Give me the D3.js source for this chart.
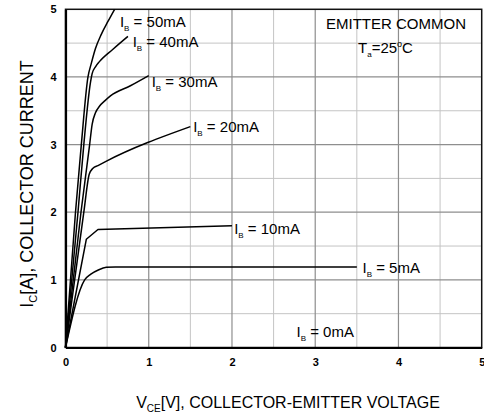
<!DOCTYPE html>
<html>
<head>
<meta charset="utf-8">
<script src="https://cdn.jsdelivr.net/npm/d3@7"></script>
<style>
  html, body { margin: 0; padding: 0; background: #fff; }
  svg { display: block; font-family: "Liberation Sans", Arial, sans-serif; }
</style>
</head>
<body>
<svg id="chart" width="484" height="418"></svg>
<script>
// ---- data ----
const seriesNames = ["50mA", "40mA", "30mA", "20mA", "10mA", "5mA"];
const vce50 = [0, 0.12, 0.19, 0.27, 0.31, 0.36, 0.43, 0.51, 0.59];
const ic50  = [0, 2.0, 3.0, 4.0, 4.2, 4.42, 4.63, 4.82, 5.0];
const vce40 = [0, 0.15, 0.22, 0.3, 0.32, 0.36, 0.41, 0.57, 0.75];
const ic40  = [0, 2.0, 3.0, 3.92, 4.05, 4.15, 4.23, 4.41, 4.6];
const vce30 = [0, 0.186, 0.29, 0.32, 0.36, 0.41, 0.475, 0.54, 0.78, 1.0];
const ic30  = [0, 2.0, 3.0, 3.3, 3.47, 3.57, 3.65, 3.72, 3.87, 4.02];
const vce20 = [0, 0.22, 0.285, 0.33, 0.39, 0.475, 1.5];
const ic20  = [0, 2.0, 2.56, 2.65, 2.69, 2.745, 3.265];
const vce10 = [0, 0.25, 0.39, 2.0];
const ic10  = [0, 1.6, 1.745, 1.8];
const vce5  = [0, 0.23, 0.3, 0.4, 0.49, 0.6, 3.5];
const ic5   = [0, 1.0, 1.08, 1.15, 1.185, 1.19, 1.19];
// label anchors (data units)
const labelNames = ["50mA", "40mA", "30mA", "20mA", "10mA", "5mA", "0mA"];
const labelV = [0.654, 0.807, 1.035, 1.534, 2.026, 3.568, 2.775];
const labelI = [4.742, 4.437, 3.857, 3.183, 1.684, 1.103, 0.159];
const xTicks = [0, 1, 2, 3, 4, 5];
const yTicks = [0, 1, 2, 3, 4, 5];
const minorTicks = [0.5, 1.5, 2.5, 3.5, 4.5];

// ---- layout ----
const svg = d3.select("#chart");
const m = { left: 65.5, right: 2.3, top: 9.3, bottom: 70.5 };
const W = 484, H = 418;
const x = d3.scaleLinear().domain([0, 5]).range([m.left, W - m.right]);
const y = d3.scaleLinear().domain([0, 5]).range([H - m.bottom, m.top]);

// minor grid
const g = svg.append("g");
g.selectAll(".mvx").data(minorTicks).join("line")
  .attr("x1", d => x(d)).attr("x2", d => x(d)).attr("y1", y(0)).attr("y2", y(5))
  .attr("stroke", "#c4c4c4").attr("stroke-width", 1);
g.selectAll(".mhy").data(minorTicks).join("line")
  .attr("x1", x(0)).attr("x2", x(5)).attr("y1", d => y(d)).attr("y2", d => y(d))
  .attr("stroke", "#c4c4c4").attr("stroke-width", 1);
// major grid
g.selectAll(".Mvx").data(xTicks.slice(1, -1)).join("line")
  .attr("x1", d => x(d)).attr("x2", d => x(d)).attr("y1", y(0)).attr("y2", y(5))
  .attr("stroke", "#8e8e8e").attr("stroke-width", 1.2);
g.selectAll(".Mhy").data(yTicks.slice(1, -1)).join("line")
  .attr("x1", x(0)).attr("x2", x(5)).attr("y1", d => y(d)).attr("y2", d => y(d))
  .attr("stroke", "#8e8e8e").attr("stroke-width", 1.2);

// frame
svg.append("rect").attr("x", x(0)).attr("y", y(5))
  .attr("width", x(5) - x(0)).attr("height", y(0) - y(5))
  .attr("fill", "none").attr("stroke", "#111").attr("stroke-width", 1.5);

// axes (ticks as labels only)
const xAxis = d3.axisBottom(x).tickValues(xTicks).tickSize(0).tickPadding(11).tickFormat(d3.format("d"));
const yAxis = d3.axisLeft(y).tickValues(yTicks).tickSize(0).tickPadding(9).tickFormat(d3.format("d"));
const gx = svg.append("g").attr("transform", `translate(0,${y(0)})`).call(xAxis);
const gy = svg.append("g").attr("transform", `translate(${x(0)},0)`).call(yAxis);
[gx, gy].forEach(a => {
  a.select(".domain").attr("stroke", "#000").attr("stroke-width", 2.2);
  a.selectAll("text").attr("font-family", "'Liberation Sans', Arial, sans-serif")
    .attr("font-size", 11).attr("font-weight", "bold").attr("fill", "#000");
});

// curves
const seriesV = [vce50, vce40, vce30, vce20, vce10, vce5];
const seriesI = [ic50, ic40, ic30, ic20, ic10, ic5];
const lineSmooth = d3.line().x(d => x(d[0])).y(d => y(d[1])).curve(d3.curveMonotoneX);
const lineStraight = d3.line().x(d => x(d[0])).y(d => y(d[1]));
seriesNames.forEach((name, k) => {
  const pts = seriesV[k].map((v, i) => [v, seriesI[k][i]]);
  svg.append("path").datum(pts)
    .attr("d", name === "10mA" ? lineStraight : lineSmooth)
    .attr("fill", "none").attr("stroke", "#000").attr("stroke-width", 1.5)
    .attr("stroke-linejoin", "round");
});

// labels
labelNames.forEach((name, k) => {
  const t = svg.append("text").attr("x", x(labelV[k])).attr("y", y(labelI[k]))
    .attr("font-size", 15).attr("fill", "#000");
  t.append("tspan").text("I");
  t.append("tspan").attr("font-size", 8).attr("dy", 4).text("B");
  t.append("tspan").attr("dy", -4).text(" = " + name);
});

// condition text
svg.append("text").attr("x", 396).attr("y", 29.3).attr("text-anchor", "middle")
  .attr("font-size", 15).attr("fill", "#000").text("EMITTER COMMON");
const ta = svg.append("text").attr("x", 358).attr("y", 53).attr("font-size", 15).attr("fill", "#000");
ta.append("tspan").text("T");
ta.append("tspan").attr("font-size", 8).attr("dy", 4).text("a");
ta.append("tspan").attr("dy", -4).text("=25");
ta.append("tspan").attr("font-size", 9).attr("dy", -6).text("o");
ta.append("tspan").attr("dy", 6).text("C");

// axis titles
const xt = svg.append("text").attr("x", 288).attr("y", 408).attr("text-anchor", "middle")
  .attr("font-size", 16).attr("fill", "#000");
xt.append("tspan").text("V");
xt.append("tspan").attr("font-size", 10).attr("dy", 4).text("CE");
xt.append("tspan").attr("dy", -4).text("[V], COLLECTOR-EMITTER VOLTAGE");

const yt = svg.append("text").attr("transform", "translate(33,184) rotate(-90)")
  .attr("text-anchor", "middle").attr("font-size", 18).attr("fill", "#000");
yt.append("tspan").text("I");
yt.append("tspan").attr("font-size", 11).attr("dy", 4).text("C");
yt.append("tspan").attr("dy", -4).text("[A], COLLECTOR CURRENT");
</script>
</body>
</html>
